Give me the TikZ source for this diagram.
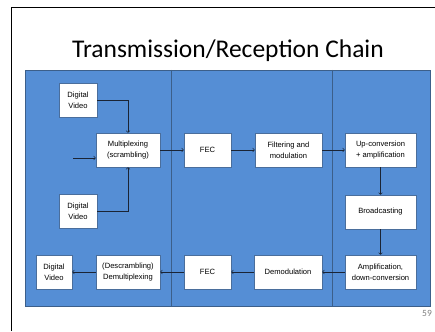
\documentclass[tikz,border=0pt]{standalone}
\usepackage{fontspec}
\setmainfont{Liberation Sans}
\newfontfamily\slidefont{Carlito}
\definecolor{panelblue}{HTML}{558ED5}
\definecolor{panelline}{HTML}{3C5F8A}
\definecolor{boxline}{HTML}{4A6E9C}
\definecolor{wire}{HTML}{1A2435}
\begin{document}
\begin{tikzpicture}[x = 1pt, y = -1pt,
		blk/.style = {draw = boxline, fill = white, line width = .6pt, inner sep = 0pt,
			minimum height = 34pt, align = center, font = \fontsize{7.6}{10.8}\selectfont},
		wr/.style = {->, draw = wire, line width = .6pt}]
				\useasboundingbox (0,0) rectangle (435,331);
				\draw[line width = 1pt] (11,331)--(11,8)--(435,8); %slide edge
				\node[anchor = base, inner sep = 0pt, font = \slidefont\fontsize{25.5}{28}\selectfont] (title) at (228,58) {Transmission/Reception Chain};
				\fill[panelblue] (25,70) rectangle (430,306);
				\draw[panelline, line width = .8pt] (25,70) rectangle (430,306);
				\draw[panelline, line width = .8pt] (171,70)--(171,306); %column 1 | 2
				\draw[panelline, line width = .8pt] (332,70)--(332,306); %column 2 | 3
				% transmit side
				\node[blk, minimum width = 38pt] (dvA) at (78,100) {Digital\\Video};
				\node[blk, minimum width = 64pt] (mux) at (128,150) {Multiplexing\\(scrambling)};
				\node[blk, minimum width = 38pt] (dvB) at (78,211) {Digital\\Video};
				\node[blk, minimum width = 47pt] (fecT) at (207.5,150) {FEC};
				\node[blk, minimum width = 67pt] (filt) at (288.5,150) {Filtering and\\modulation};
				\node[blk, minimum width = 71pt] (upc) at (380.5,150) {Up-conversion\\+ amplification};
				\node[blk, minimum width = 71pt] (bcast) at (380.5,212) {Broadcasting};
				% receive side
				\node[blk, minimum width = 71pt] (amp) at (380.5,272) {Amplification,\\down-conversion};
				\node[blk, minimum width = 68pt] (demod) at (288,272) {Demodulation};
				\node[blk, minimum width = 47pt] (fecB) at (207.5,272) {FEC};
				\node[blk, minimum width = 64pt] (demux) at (128,272) {(Descrambling)\\Demultiplexing};
				\node[blk, minimum width = 36pt] (dvC) at (54,272) {Digital\\Video};
				\coordinate (in) at (73,158);
				\draw[wr] (dvA) -| (mux);
				\draw[wr] (dvB) -| (mux);
				\draw[wr] (in)--(in -| mux.west);
				\draw[wr] (mux)--(fecT);
				\draw[wr] (fecT)--(filt);
				\draw[wr] (filt)--(upc);
				\draw[wr] (upc)--(bcast);
				\draw[wr] (bcast)--(amp);
				\draw[wr] (amp)--(demod);
				\draw[wr] (demod)--(fecB);
				\draw[wr] (fecB)--(demux);
				\draw[wr] (demux)--(dvC);
				\node[anchor = base, inner sep = 0pt, text = gray, font = \slidefont\fontsize{9.5}{10}\selectfont] (pgno) at (427,316) {59};
			\end{tikzpicture}
\end{document}
